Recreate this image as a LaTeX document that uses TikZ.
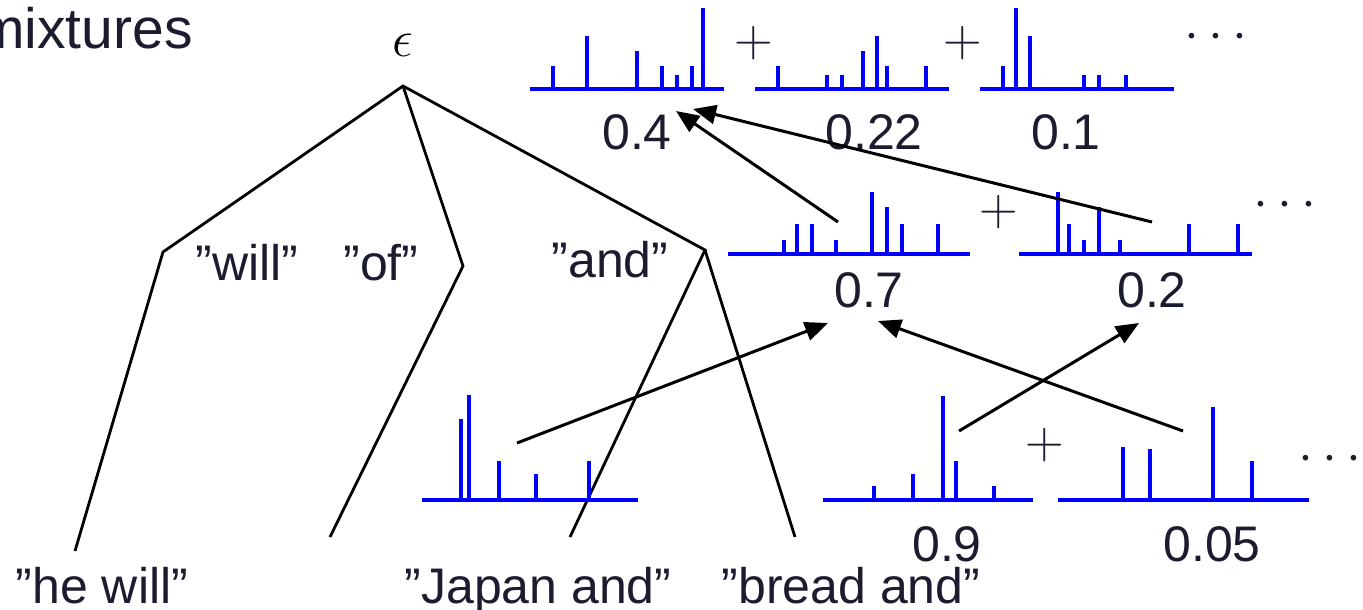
\documentclass[tikz,border=0pt]{standalone}
\usepackage{fontspec}
\setmainfont{Liberation Sans}
\usetikzlibrary{arrows.meta}
\definecolor{ink}{RGB}{28,28,48}
\definecolor{histblue}{RGB}{0,0,255}
\newcommand\drawhist[4]{%
  \draw[hbase] (#2,#1) -- (#3,#1);
  \foreach \bx/\by in {#4} \draw[hbar] (\bx,#1) -- (\bx,\by);
}
\begin{document}
\begin{tikzpicture}[x=1pt,y=-1pt,
  lbl/.style={font=\fontsize{50}{50}\selectfont, text=ink, anchor=base, inner sep=0pt},
  tree/.style={line width=2.8pt, black, line join=miter},
  arr/.style={line width=3pt, black, -{Triangle[length=23pt,width=19pt]}},
  hbar/.style={histblue, line width=3.2pt},
  hbase/.style={histblue, line width=3.8pt},
  plussign/.style={font=\Huge, scale=2.15, text=ink, anchor=base, inner sep=0pt},
  dotsign/.style={font=\Huge, scale=2.15, text=ink, anchor=base, inner sep=0pt}]
\useasboundingbox (0,0) rectangle (1363,610);
\clip (0,0) rectangle (1363,610);

% title
\node[font=\fontsize{57}{57}\selectfont, text=ink, anchor=base west, inner sep=0pt] (title) at (-23,49) {mixtures};

% tree
\node[font=\Huge, scale=2.1, inner sep=0pt] (eps) at (403,45) {$\epsilon$};
\coordinate (root) at (403,86);
\coordinate (nwill) at (163,252);
\coordinate (nof) at (463,266);
\coordinate (nand) at (705,250);
\coordinate (lhe) at (75,551);
\coordinate (lof) at (330,537);
\coordinate (ljap) at (570,537);
\coordinate (lbread) at (795,537);
\draw[tree] (lhe) -- (nwill) -- (root) -- (nand) -- (ljap);
\draw[tree] (root) -- (nof) -- (lof);
\draw[tree] (nand) -- (lbread);

\node[lbl] (will) at (247,280) {”will”};
\node[lbl] (of) at (381,280) {”of”};
\node[lbl] (and) at (610,277) {”and”};
\node[lbl] (hewill) at (102,603) {”he will”};
\node[lbl] (japan) at (538,603) {”Japan and”};
\node[lbl] (bread) at (851,603) {”bread and”};

% top row
\drawhist{89}{530}{724}{553/66, 587/36, 637/51, 662/66, 677/75, 692/66, 703/8}
\drawhist{89}{755}{949}{778/66, 827/75, 842/75, 863/51, 877/36, 887/66, 926/66}
\drawhist{89}{980}{1174}{1003/66, 1016/8, 1030/36, 1084/75, 1099/75, 1126/75}
\node[plussign] (p1) at (754,57) {$+$};
\node[plussign] (p2) at (963,57) {$+$};
\node[dotsign] (d1) at (1216,50) {$\cdots$};
\node[lbl] (w04) at (637,149) {0.4};
\node[lbl] (w022) at (874,149) {0.22};
\node[lbl] (w01) at (1066,149) {0.1};

% middle row
\drawhist{254}{728}{970}{784/240, 797/224, 812/224, 836/240, 872/192, 887/207, 902/224, 938/224}
\drawhist{254}{1019}{1252}{1058/192, 1069/224, 1084/240, 1099/207, 1120/240, 1189/224, 1238/224}
\node[plussign] (p3) at (999,225) {$+$};
\node[dotsign] (d2) at (1285,217) {$\cdots$};
\node[lbl] (w07) at (869,307) {0.7};
\node[lbl] (w02) at (1152,307) {0.2};

% bottom row
\drawhist{500}{422}{638}{461/419, 469/395, 499/461, 536/474, 589/461}
\drawhist{500}{823}{1033}{874/486, 913/474, 943/396, 956/461, 994/486}
\drawhist{500}{1058}{1309}{1123/447, 1150/449, 1213/407, 1252/461}
\node[plussign] (p4) at (1045,458) {$+$};
\node[dotsign] (d3) at (1330,471) {$\cdots$};
\node[lbl] (w09) at (947,561) {0.9};
\node[lbl] (w005) at (1212,561) {0.05};

% arrows
\coordinate (t1) at (838,222);
\coordinate (h1) at (676,111);
\coordinate (t2) at (1152,222);
\coordinate (h2) at (693,109);
\coordinate (t3) at (517,443);
\coordinate (h3) at (828,323);
\coordinate (t4) at (1183,431);
\coordinate (h4) at (878,321);
\coordinate (t5) at (959,431);
\coordinate (h5) at (1139,323);
\draw[arr] (t1) -- (h1);
\draw[arr] (t2) -- (h2);
\draw[arr] (t3) -- (h3);
\draw[arr] (t4) -- (h4);
\draw[arr] (t5) -- (h5);
\end{tikzpicture}
\end{document}
